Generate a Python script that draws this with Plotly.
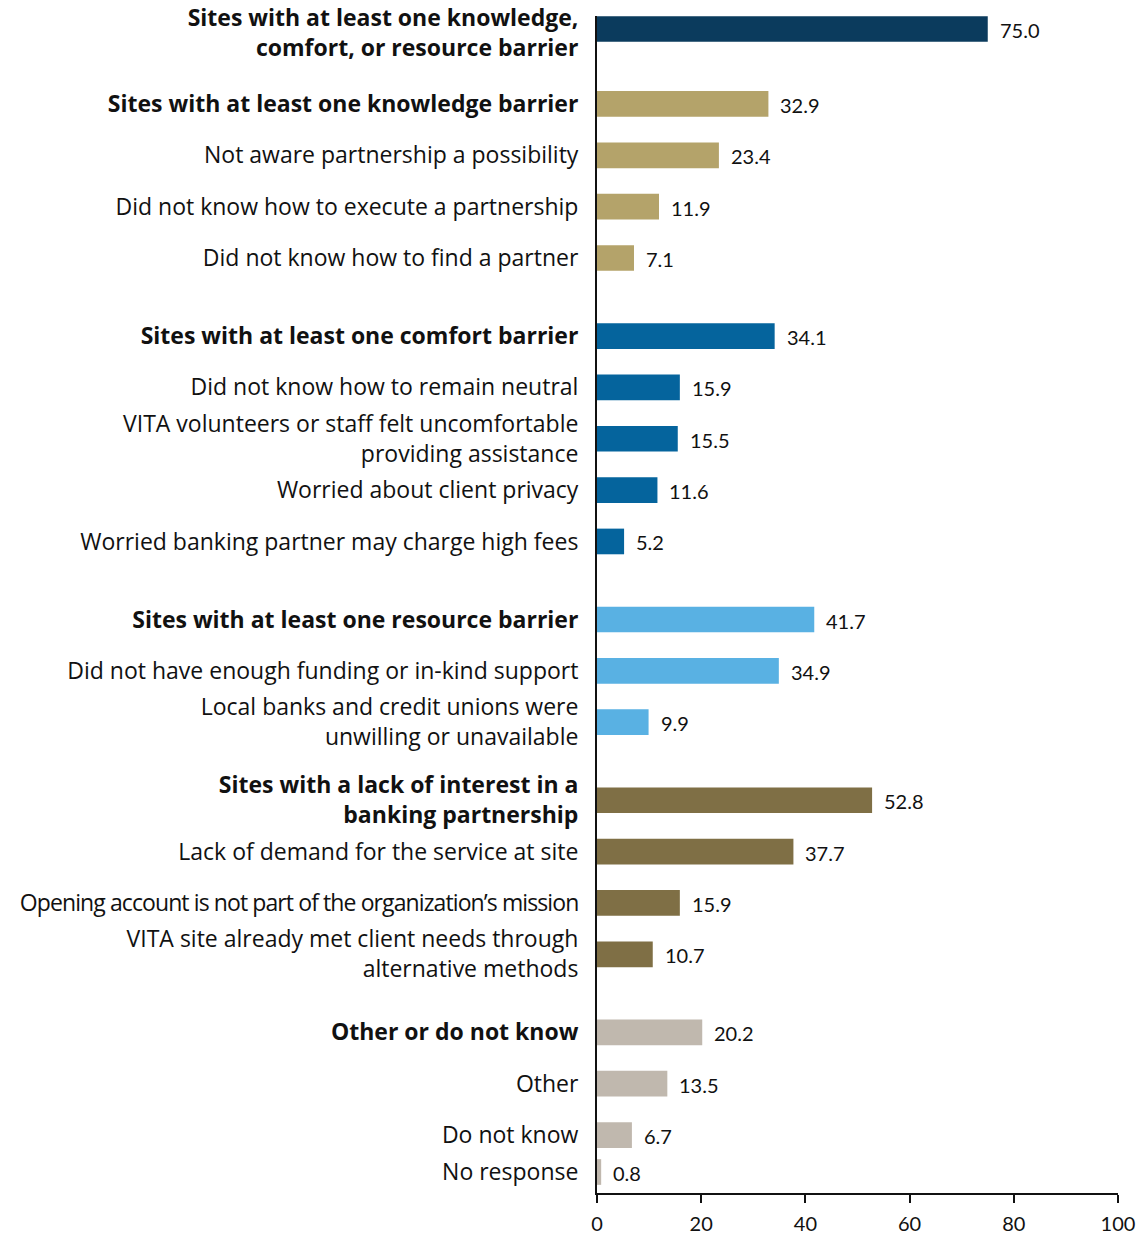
import plotly.graph_objects as go

# ---------------- data ----------------
labels = [
    "<b>Sites with at least one knowledge,<br>comfort, or resource barrier</b>",
    "<b>Sites with at least one knowledge barrier</b>",
    "Not aware partnership a possibility",
    "Did not know how to execute a partnership",
    "Did not know how to find a partner",
    "<b>Sites with at least one comfort barrier</b>",
    "Did not know how to remain neutral",
    "VITA volunteers or staff felt uncomfortable<br>providing assistance",
    "Worried about client privacy",
    "Worried banking partner may charge high fees",
    "<b>Sites with at least one resource barrier</b>",
    "Did not have enough funding or in-kind support",
    "Local banks and credit unions were<br>unwilling or unavailable",
    "<b>Sites with a lack of interest in a<br>banking partnership</b>",
    "Lack of demand for the service at site",
    "Opening account is not part of the organization’s mission",
    "VITA site already met client needs through<br>alternative methods",
    "<b>Other or do not know</b>",
    "Other",
    "Do not know",
    "No response",
]
values = [75.0, 32.9, 23.4, 11.9, 7.1, 34.1, 15.9, 15.5, 11.6, 5.2,
          41.7, 34.9, 9.9, 52.8, 37.7, 15.9, 10.7, 20.2, 13.5, 6.7, 0.8]
groups = ["any", "knowledge", "knowledge", "knowledge", "knowledge",
          "comfort", "comfort", "comfort", "comfort", "comfort",
          "resource", "resource", "resource",
          "interest", "interest", "interest", "interest",
          "other", "other", "other", "other"]

# ---------------- styles / layout ----------------
group_colors = {
    "any": "#0b3b5d",
    "knowledge": "#b4a36a",
    "comfort": "#05649d",
    "resource": "#59b1e3",
    "interest": "#7f6f45",
    "other": "#c0b8ae",
}
LABEL_FONT = "'Open Sans', sans-serif"
VALUE_FONT = "Lato, sans-serif"
STEP = 1.0          # spacing within a group
FIRST_GAP = 1.46    # spacing after the summary row
GROUP_GAP = 1.52    # spacing between groups
LAST_GAP = 0.72     # compressed final row
PX_PER_UNIT = 51.4
TOP_LABEL_NUDGE_PX = 4  # keep the first two-line label inside the page

# compute row positions from group structure
ypos = [0.0]
for i in range(1, len(values)):
    if i == len(values) - 1:
        gap = LAST_GAP
    elif groups[i] != groups[i - 1]:
        gap = FIRST_GAP if groups[i - 1] == "any" else GROUP_GAP
    else:
        gap = STEP
    ypos.append(ypos[-1] + gap)

label_pos = [y + (TOP_LABEL_NUDGE_PX / PX_PER_UNIT if i == 0 else 0.0)
             for i, y in enumerate(ypos)]

colors = [group_colors[g] for g in groups]

# the long label is set condensed, as in the original
ticktext = [
    f'<span style="letter-spacing:-0.9px">{t}</span>' if len(t) > 50 and "<br>" not in t else t
    for t in labels
]

fig = go.Figure()
fig.add_trace(go.Bar(
    x=values, y=ypos, orientation="h",
    marker=dict(color=colors, line=dict(width=0)),
    width=0.5, hoverinfo="skip",
))

for v, y in zip(values, ypos):
    fig.add_annotation(
        x=v, y=y, text=f"{v:.1f}", showarrow=False,
        xanchor="left", yanchor="middle", xshift=10, yshift=-1,
        font=dict(family=VALUE_FONT, size=20, color="#111111"),
    )

fig.update_layout(
    width=1141, height=1237,
    margin=dict(l=597, r=23, t=16, b=44),
    paper_bgcolor="white", plot_bgcolor="white",
    showlegend=False,
    font=dict(family=LABEL_FONT, size=23, color="#111111"),
    xaxis=dict(
        range=[0, 100], tickvals=[0, 20, 40, 60, 80, 100],
        automargin=False,
        showgrid=False, zeroline=False,
        showline=True, linecolor="#111111", linewidth=2,
        ticks="outside", ticklen=8, tickwidth=1.5, tickcolor="#111111",
        ticklabelstandoff=4,
        tickfont=dict(family=VALUE_FONT, size=20, color="#111111"),
    ),
    yaxis=dict(
        range=[ypos[-1] + 21 / PX_PER_UNIT, -13 / PX_PER_UNIT],
        tickvals=label_pos, ticktext=ticktext,
        automargin=False, ticklabeloverflow="allow",
        showgrid=False, zeroline=False,
        showline=True, linecolor="#111111", linewidth=2,
        ticks="", ticklabelstandoff=12,
        tickfont=dict(family=LABEL_FONT, size=23, color="#111111"),
    ),
)

fig.write_html("out.html", post_script="document.body.style.margin='0';")
